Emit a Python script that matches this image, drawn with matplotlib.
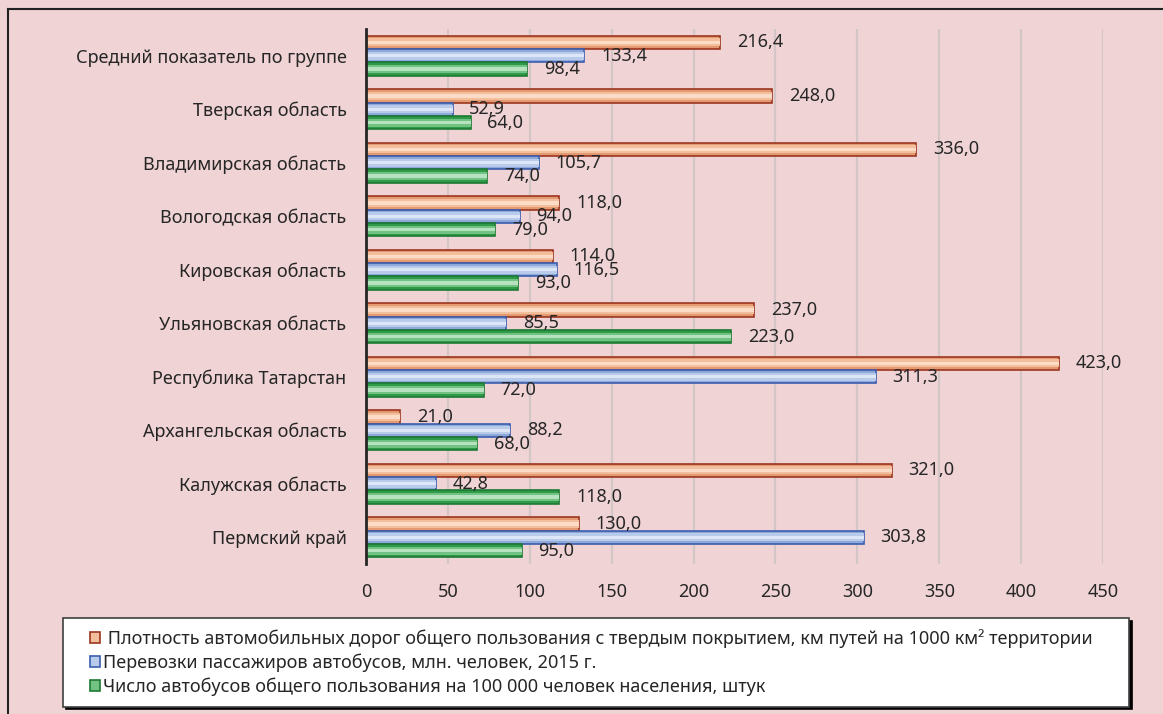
import numpy as np
import matplotlib
matplotlib.use('Agg')
import matplotlib.pyplot as plt
from matplotlib.patches import Rectangle
from matplotlib.lines import Line2D
from matplotlib.legend_handler import HandlerPatch

plt.rcParams['font.family'] = ['Noto Sans', 'DejaVu Sans']

# ── data ──────────────────────────────────────────────
regions = [
    'Средний показатель по группе',
    'Тверская область',
    'Владимирская область',
    'Вологодская область',
    'Кировская область',
    'Ульяновская область',
    'Республика Татарстан',
    'Архангельская область',
    'Калужская область',
    'Пермский край',
]
road_density = [216.4, 248.0, 336.0, 118.0, 114.0, 237.0, 423.0, 21.0, 321.0, 130.0]
bus_passengers = [133.4, 52.9, 105.7, 94.0, 116.5, 85.5, 311.3, 88.2, 42.8, 303.8]
buses_per_100k = [98.4, 64.0, 74.0, 79.0, 93.0, 223.0, 72.0, 68.0, 118.0, 95.0]

series_labels = [
    ' Плотность автомобильных дорог общего пользования с твердым покрытием, км путей на 1000 км² территории',
    'Перевозки пассажиров автобусов, млн. человек, 2015 г.',
    'Число автобусов общего пользования на 100 000 человек населения, штук',
]
x_ticks = [0, 50, 100, 150, 200, 250, 300, 350, 400, 450]

# edge colour, then shades from outer to inner (fake gradient)
styles = [
    ('#9B3620', ['#E39A72', '#F2BE9C', '#FCDCC6']),
    ('#3B5EAE', ['#8EA8DA', '#B9CBEB', '#DCE6F6']),
    ('#1E7A34', ['#2F9A47', '#72C283', '#B7E2BF']),
]

BG = '#F0D3D4'
TXT = '#262626'

fig = plt.figure(figsize=(11.63, 7.14), dpi=100, facecolor=BG)
ax = fig.add_axes([366 / 1163, 1 - 564 / 714, (1103 - 366) / 1163, (564 - 29) / 714])
ax.set_facecolor(BG)

y = np.arange(len(regions))
h = 0.25
all_series = [road_density, bus_passengers, buses_per_100k]

for k, vals in enumerate(all_series):
    edge, shades = styles[k]
    pos = y + (k - 1) * h
    ax.barh(pos, vals, height=h, color=shades[0], edgecolor=edge, linewidth=1.2, zorder=3)
    ax.barh(pos, vals, height=h * 0.6, color=shades[1], linewidth=0, zorder=4)
    ax.barh(pos, vals, height=h * 0.25, color=shades[2], linewidth=0, zorder=5)
    for p, v in zip(pos, vals):
        ax.annotate(f'{v:.1f}'.replace('.', ','), (v, p), xytext=(12, 0),
                    textcoords='offset points', va='center', ha='left',
                    fontsize=13, color=TXT, zorder=6)

ax.set_xlim(0, 450)
ax.set_ylim(len(regions) - 0.5, -0.5)
ax.set_xticks(x_ticks)
ax.set_xticklabels([str(t) for t in x_ticks])
ax.set_yticks(y)
ax.set_yticklabels(regions)
ax.tick_params(axis='x', length=0, pad=14, labelsize=13, labelcolor=TXT)
ax.tick_params(axis='y', length=0, pad=14, labelsize=13, labelcolor=TXT)
ax.grid(axis='x', color='#D2C6C7', linewidth=1.5, zorder=0)
for s in ['top', 'right', 'bottom']:
    ax.spines[s].set_visible(False)
ax.spines['left'].set_color(TXT)
ax.spines['left'].set_linewidth(2)
ax.spines['left'].set_zorder(7)


# small square marker sitting at the right end of the handle box
def small_square(legend, orig_handle, xdescent, ydescent, width, height, fontsize):
    s = 0.58 * fontsize
    return Rectangle((-xdescent + width - s, -ydescent + (height - s) / 2), s, s)


handles = [Rectangle((0, 0), 1, 1, facecolor=st[1][1], edgecolor=st[0], linewidth=1.2)
           for st in styles]
leg = fig.legend(handles, series_labels, loc='upper left',
                 bbox_to_anchor=(63 / 1163, 1 - 619 / 714, (1129 - 63) / 1163, 0.001),
                 mode='expand', fontsize=13, frameon=True, fancybox=False,
                 shadow={'color': 'black', 'alpha': 1},
                 handler_map={Rectangle: HandlerPatch(patch_func=small_square)},
                 handlelength=1.45, handleheight=0.8, handletextpad=0.15,
                 labelspacing=0.3, borderpad=0.6, borderaxespad=0)
leg.get_frame().set_edgecolor('#404040')
leg.get_frame().set_linewidth(1.2)
leg.get_frame().set_facecolor('white')
for t in leg.get_texts():
    t.set_color(TXT)

# outer frame (top and left edges visible)
fig.add_artist(Line2D([8 / 1163, 1], [1 - 9 / 714, 1 - 9 / 714], color='#222222', linewidth=1.5))
fig.add_artist(Line2D([8 / 1163, 8 / 1163], [0, 1 - 9 / 714], color='#222222', linewidth=1.5))

fig.savefig('out.png', dpi=100, facecolor=BG)
